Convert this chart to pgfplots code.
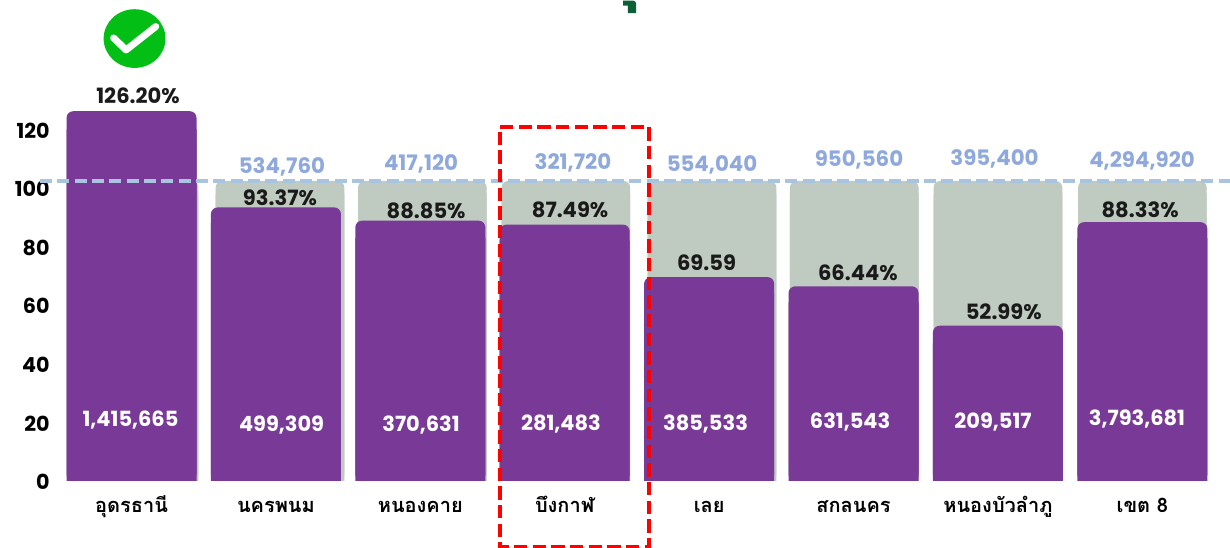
\documentclass[border=0pt]{standalone}
\usepackage{pgfplots}
\pgfplotsset{compat=1.18}
\usepackage{fontspec}
\setmainfont{Poppins}
\newfontfamily\thaifont[Script=Thai]{Loma}
\definecolor{barp}{HTML}{783A96}
\definecolor{barg}{HTML}{BFCAC0}
\definecolor{lab}{HTML}{8FA9DC}
\definecolor{dashb}{HTML}{A9C4DE}
\definecolor{txt}{HTML}{1A1A1A}
\definecolor{okg}{HTML}{03BE14}
\definecolor{dkg}{HTML}{0B6038}
\pgfplotstableread{
x y
0.018 102.4
1.028 102.4
2.014 102.4
3.008 102.4
4.020 102.4
5.005 102.4
6.000 102.4
7.000 102.4
}\greytop
\pgfplotstableread{
x y
0.018 98
1.028 98
2.014 98
3.008 98
4.020 98
5.005 98
6.000 98
7.000 98
}\greylow
\pgfplotstableread{
x y
0 126.20
1 93.37
2 88.85
3 87.49
4 69.59
5 66.44
6 52.99
7 88.33
}\purpletop
\pgfplotstableread{
x y
0 120
1 88
2 83
3 82
4 64
5 61
6 47
7 83
}\purplelow
\pgfplotstableread{
x y m
0.045 131.4 126.20
1.028 96.6 93.37
2.040 92.2 88.85
3.037 92.5 87.49
5.030 71.0 66.44
6.040 57.7 52.99
6.984 92.5 88.33
}\pctlabels
\pgfplotstableread{
x y m
3.982 74.4 69.59
}\plainlabels
\pgfplotstableread{
x y m
1.042 107.3 534,760
2.005 108.3 417,120
3.057 108.6 321,720
4.020 107.9 554,040
5.038 109.6 950,560
5.976 110.0 395,400
6.998 109.3 4,294,920
}\bluelabels
\pgfplotstableread{
x y m
-0.007 20.7 1,415,665
1.039 19.0 499,309
2.005 19.0 370,631
2.974 19.6 281,483
3.975 19.3 385,533
4.976 20.0 631,543
5.966 20.0 209,517
6.963 21.3 3,793,681
}\whitelabels
\begin{document}
\begin{tikzpicture}
\begin{axis}[
  scale only axis, width=880.5pt, height=360.75pt,
  xmin=-0.523, xmax=7.607, ymin=0, ymax=164.16,
  clip=false, axis line style={draw=none},
  tick style={draw=none},
  xtick={0,...,7},
  xticklabels={อุดรธานี,นครพนม,หนองคาย,บึงกาฬ,เลย,สกลนคร,หนองบัวลำภู,เขต 8},
  xticklabel style={font=\thaifont\bfseries\fontsize{15}{18}\selectfont, text=black, text height=12pt, text depth=4pt, yshift=-3.5pt},
  ytick={0,20,...,120},
  yticklabel style={font=\bfseries\fontsize{15.5}{18}\selectfont, text=black, xshift=3pt, yshift=-0.7pt},
  /pgf/number format/assume math mode=true,
  every axis plot/.append style={line join=round},
  tick align=outside,
]
\pgfplotsset{
  lbl/.style={draw=none, mark=none, only marks, point meta=explicit symbolic,
    nodes near coords, every node near coord/.append style={anchor=center, inner sep=0pt}},
}
% grey target bars
\addplot[ybar, bar width=96.5pt, bar shift=0pt, fill=barg, draw=none, rounded corners=5pt] table[x=x,y=y] {\greytop};
\addplot[ybar, bar width=96.5pt, bar shift=0pt, fill=barg, draw=none] table[x=x,y=y] {\greylow};
% purple achieved bars
\addplot[ybar, bar width=97.5pt, bar shift=0pt, fill=barp, draw=none, rounded corners=5pt] table[x=x,y=y] {\purpletop};
\addplot[ybar, bar width=97.5pt, bar shift=0pt, fill=barp, draw=none] table[x=x,y=y] {\purplelow};
% target line
\addplot[dashb, line width=3pt, dash pattern=on 9pt off 4pt] coordinates {(-0.634,102.4) (7.607,102.4)};
% highlighted district frame
\addplot[red, line width=2.7pt, dash pattern=on 10pt off 4pt, line join=miter] coordinates {(2.552,120.8) (3.584,120.8) (3.584,-22.5) (2.552,-22.5) (2.552,120.8)};
% value labels
\addplot[lbl, nodes near coords={\pgfplotspointmeta\%}, every node near coord/.append style={text=txt, font=\bfseries\fontsize{15.8}{18}\selectfont}] table[x=x,y=y,meta=m] {\pctlabels};
\addplot[lbl, every node near coord/.append style={text=txt, font=\bfseries\fontsize{15.8}{18}\selectfont}] table[x=x,y=y,meta=m] {\plainlabels};
\addplot[lbl, every node near coord/.append style={text=lab, font=\bfseries\fontsize{16}{18}\selectfont}] table[x=x,y=y,meta=m] {\bluelabels};
\addplot[lbl, every node near coord/.append style={text=white, font=\bfseries\fontsize{15.7}{18}\selectfont}] table[x=x,y=y,meta=m] {\whitelabels};
% check badge
\fill[okg] (axis cs:0.021,151) ellipse [x radius=23.2pt, y radius=22pt];
\draw[white, line width=5.2pt, line cap=round, line join=round] (axis cs:-0.124,151.2) -- (axis cs:-0.038,147.1) -- (axis cs:0.168,155.1);
% clipped fragment at the top
\fill[dkg] (axis cs:3.4035,163.9) -- (axis cs:3.466,163.9) [rounded corners=2pt] -- (axis cs:3.494,163.9) [sharp corners] -- (axis cs:3.494,159.7) -- (axis cs:3.438,159.7) -- (axis cs:3.438,162.2) -- (axis cs:3.4035,162.2) -- cycle;
\end{axis}
\pgfresetboundingbox
\path[use as bounding box] (-42pt,-50.25pt) rectangle (880.5pt,360.75pt);
\end{tikzpicture}
\end{document}
